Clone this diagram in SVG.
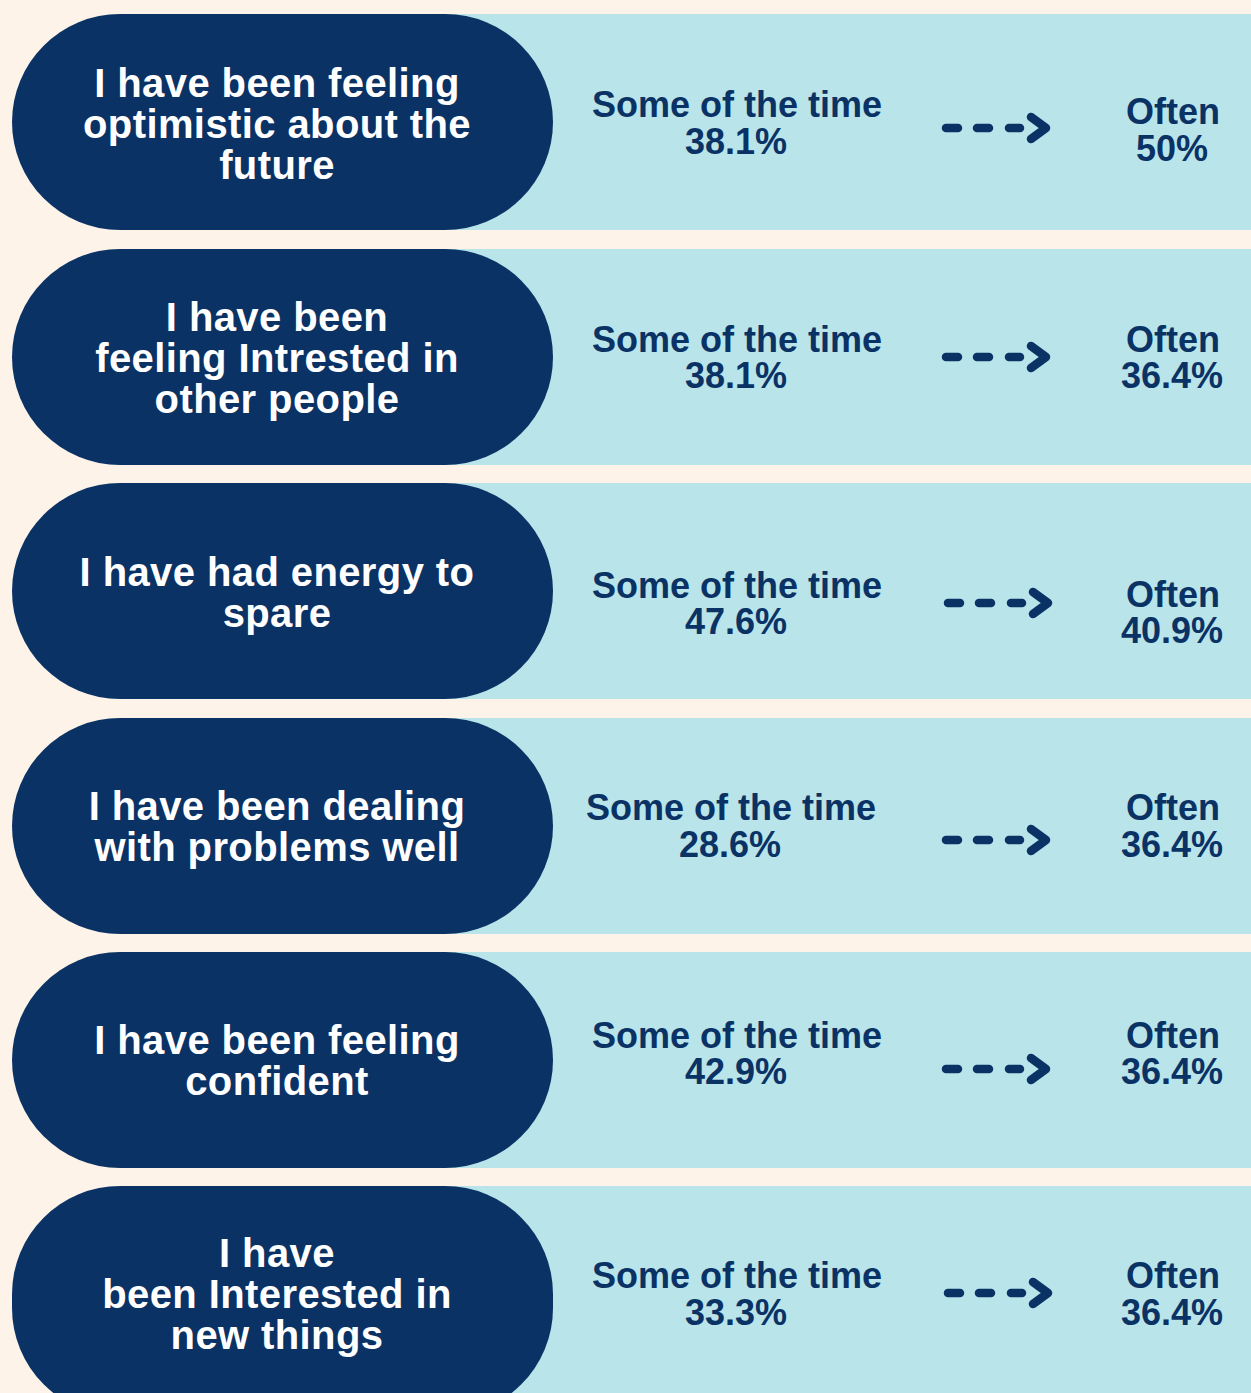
<svg xmlns="http://www.w3.org/2000/svg" width="1251" height="1393" viewBox="0 0 1251 1393">
<style>
.band{fill:#b9e4e9}
.pill{fill:#0a3265}
.q{font-family:"Liberation Sans",Arial,sans-serif;font-weight:bold;font-size:40px;letter-spacing:0.4px;fill:#ffffff;text-anchor:middle}
.v{font-family:"Liberation Sans",Arial,sans-serif;font-weight:bold;font-size:36px;fill:#0a3265;text-anchor:middle}
.arr{fill:none;stroke:#0a3265;stroke-width:8.5;stroke-linecap:round;stroke-linejoin:round}
</style>
<defs>
<g id="arrow">
<path class="arr" d="M946,0H958M977,0H989M1009,0H1020M1031,-11L1046,0L1031,11"/>
</g>
</defs>
<rect x="0" y="0" width="1251" height="1393" fill="#fdf3e8"/>

<g id="row1">
<rect class="band" x="400" y="14" width="851" height="216"/>
<rect class="pill" x="12" y="14" width="541" height="216" rx="108" ry="108"/>
<text class="q" x="277" y="97">I have been feeling</text>
<text class="q" x="277" y="138">optimistic about the</text>
<text class="q" x="277" y="179">future</text>
<text class="v" x="737" y="117">Some of the time</text>
<text class="v" x="736" y="154">38.1%</text>
<text class="v" x="1173" y="124">Often</text>
<text class="v" x="1172" y="161">50%</text>
</g>

<g id="row2">
<rect class="band" x="400" y="249" width="851" height="216"/>
<rect class="pill" x="12" y="249" width="541" height="216" rx="108" ry="108"/>
<text class="q" x="277" y="331">I have been</text>
<text class="q" x="277" y="372">feeling Intrested in</text>
<text class="q" x="277" y="413">other people</text>
<text class="v" x="737" y="352">Some of the time</text>
<text class="v" x="736" y="388">38.1%</text>
<text class="v" x="1173" y="352">Often</text>
<text class="v" x="1172" y="388">36.4%</text>
</g>

<g id="row3">
<rect class="band" x="400" y="483" width="851" height="216"/>
<rect class="pill" x="12" y="483" width="541" height="216" rx="108" ry="108"/>
<text class="q" x="277" y="586">I have had energy to</text>
<text class="q" x="277" y="627">spare</text>
<text class="v" x="737" y="598">Some of the time</text>
<text class="v" x="736" y="634">47.6%</text>
<text class="v" x="1173" y="607">Often</text>
<text class="v" x="1172" y="643">40.9%</text>
</g>

<g id="row4">
<rect class="band" x="400" y="718" width="851" height="216"/>
<rect class="pill" x="12" y="718" width="541" height="216" rx="108" ry="108"/>
<text class="q" x="277" y="820">I have been dealing</text>
<text class="q" x="277" y="861">with problems well</text>
<text class="v" x="731" y="820">Some of the time</text>
<text class="v" x="730" y="857">28.6%</text>
<text class="v" x="1173" y="820">Often</text>
<text class="v" x="1172" y="857">36.4%</text>
</g>

<g id="row5">
<rect class="band" x="400" y="952" width="851" height="216"/>
<rect class="pill" x="12" y="952" width="541" height="216" rx="108" ry="108"/>
<text class="q" x="277" y="1054">I have been feeling</text>
<text class="q" x="277" y="1095">confident</text>
<text class="v" x="737" y="1048">Some of the time</text>
<text class="v" x="736" y="1084">42.9%</text>
<text class="v" x="1173" y="1048">Often</text>
<text class="v" x="1172" y="1084">36.4%</text>
</g>

<g id="row6">
<rect class="band" x="400" y="1186" width="851" height="207"/>
<rect class="pill" x="12" y="1186" width="541" height="230" rx="108" ry="108"/>
<text class="q" x="277" y="1267">I have</text>
<text class="q" x="277" y="1308">been Interested in</text>
<text class="q" x="277" y="1349">new things</text>
<text class="v" x="737" y="1288">Some of the time</text>
<text class="v" x="736" y="1325">33.3%</text>
<text class="v" x="1173" y="1288">Often</text>
<text class="v" x="1172" y="1325">36.4%</text>
</g>

<g id="connectors">
<use href="#arrow" transform="translate(0,128)"/>
<use href="#arrow" transform="translate(0,357)"/>
<use href="#arrow" transform="translate(2,603)"/>
<use href="#arrow" transform="translate(0,840)"/>
<use href="#arrow" transform="translate(0,1069)"/>
<use href="#arrow" transform="translate(2,1293)"/>
</g>
</svg>
